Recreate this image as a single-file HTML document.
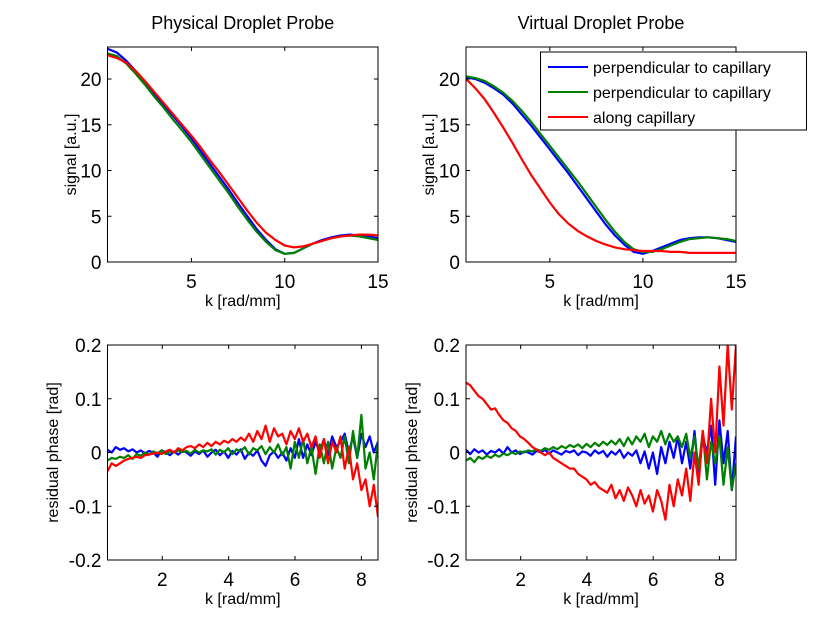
<!DOCTYPE html>
<html><head><meta charset="utf-8"><style>
body{margin:0;background:#fff;width:813px;height:629px;overflow:hidden}
svg{font-family:"Liberation Sans",Arial,sans-serif}
</style></head><body>
<svg id="fig" width="813" height="629" viewBox="0 0 813 629"></svg>
<script>
// ---------- data ----------
const kSignal=[0.5,1,1.5,2,2.5,3,3.5,4,4.5,5,5.5,6,6.5,7,7.5,8,8.5,9,9.5,10,10.5,11,11.5,12,12.5,13,13.5,14,14.5,15];
const physBlue=[23.3,22.9,22.0,20.9,19.7,18.4,17.2,16.0,14.8,13.5,12.1,10.7,9.3,7.9,6.4,5.0,3.6,2.4,1.4,0.9,1.0,1.5,2.0,2.4,2.7,2.9,3.0,2.9,2.8,2.6];
const physGreen=[22.8,22.5,21.7,20.6,19.4,18.1,16.9,15.6,14.4,13.1,11.7,10.3,8.9,7.5,6.0,4.6,3.3,2.2,1.3,0.9,1.0,1.5,2.0,2.3,2.6,2.8,2.9,2.8,2.6,2.4];
const physRed=[22.6,22.3,21.8,20.9,19.8,18.6,17.4,16.2,15.0,13.8,12.5,11.1,9.8,8.4,7.0,5.6,4.3,3.2,2.4,1.8,1.6,1.7,2.0,2.3,2.6,2.8,2.9,3.0,3.0,2.9];
const virtBlue=[20.2,20.0,19.6,19.0,18.3,17.3,16.1,14.9,13.6,12.3,11.0,9.7,8.3,6.9,5.5,4.1,2.9,1.9,1.1,0.9,1.2,1.6,2.0,2.4,2.6,2.7,2.7,2.6,2.4,2.2];
const virtGreen=[20.3,20.1,19.8,19.2,18.5,17.6,16.5,15.3,14.0,12.7,11.4,10.1,8.8,7.4,6.0,4.6,3.3,2.2,1.4,1.1,1.1,1.4,1.8,2.2,2.5,2.6,2.7,2.6,2.5,2.3];
const virtRed=[20.0,19.0,17.8,16.3,14.7,13.0,11.2,9.5,8.0,6.5,5.2,4.2,3.4,2.8,2.3,1.9,1.6,1.4,1.3,1.2,1.2,1.2,1.1,1.1,1.0,1.0,1.0,1.0,1.0,1.0];
const kPhaseStart=0.35, kPhaseEnd=8.5;
const phaseLBlue=[0.005,0.0,0.01,0.005,0.008,0.002,0.006,0.0,0.004,-0.002,0.003,0.0,-0.008,0.004,0.0,-0.005,0.002,-0.004,0.003,0.0,-0.006,0.002,-0.003,0.004,-0.008,0.0,0.005,-0.005,0.002,-0.01,0.003,-0.004,0.006,-0.012,0.0,-0.006,0.004,-0.015,-0.025,-0.005,0.002,-0.01,0.0,-0.015,0.008,-0.01,0.025,-0.01,0.015,-0.005,0.02,0.0,0.025,-0.005,0.03,0.01,0.02,0.035,0.0,0.03,-0.01,0.035,0.01,0.03,0.0,0.02];
const phaseLGreen=[-0.015,-0.01,-0.012,-0.008,-0.01,-0.005,-0.012,-0.003,-0.006,0.0,-0.004,0.002,-0.002,0.004,-0.003,0.002,0.0,0.004,0.001,0.003,-0.002,0.005,0.0,0.004,0.002,0.006,-0.004,0.005,0.0,0.008,-0.003,0.006,0.002,0.01,-0.004,0.008,0.004,0.012,-0.003,0.01,0.0,0.015,-0.005,0.01,-0.03,0.02,-0.01,0.025,-0.02,0.01,-0.04,0.015,-0.02,0.02,-0.03,0.01,-0.01,0.03,-0.02,0.04,-0.01,0.07,-0.03,0.0,-0.05,0.02];
const phaseLRed=[-0.035,-0.02,-0.025,-0.02,-0.015,-0.012,-0.01,-0.008,-0.01,-0.005,-0.004,-0.002,0.0,-0.003,0.002,0.005,0.0,0.008,0.004,0.01,0.012,0.008,0.015,0.01,0.018,0.012,0.02,0.015,0.022,0.018,0.025,0.02,0.028,0.022,0.035,0.02,0.04,0.025,0.05,0.02,0.045,0.03,0.035,0.015,0.04,0.025,0.045,0.02,0.035,0.01,0.03,-0.01,0.025,-0.02,0.02,0.0,0.03,-0.03,0.01,-0.05,-0.02,-0.07,-0.05,-0.1,-0.06,-0.12];
const phaseRBlue=[0.005,-0.003,0.006,0.0,0.004,-0.004,0.003,0.0,0.006,-0.002,0.01,0.0,0.004,-0.003,0.002,0.0,-0.004,0.003,0.0,0.005,-0.002,0.004,0.0,-0.004,0.003,0.0,0.004,-0.005,0.002,0.0,-0.006,0.004,-0.002,0.003,-0.008,0.002,-0.004,0.005,-0.01,0.0,-0.006,0.004,-0.02,0.002,-0.03,0.0,-0.04,0.01,-0.02,0.02,-0.01,0.03,-0.02,0.02,-0.03,0.04,-0.04,0.03,0.0,0.05,-0.06,0.06,-0.02,0.04,-0.07,0.03];
const phaseRGreen=[-0.015,-0.01,-0.018,-0.008,-0.012,-0.006,-0.01,-0.004,-0.008,-0.002,-0.005,0.0,-0.003,0.002,0.0,0.004,0.002,0.006,0.003,0.008,0.005,0.01,0.006,0.012,0.008,0.014,0.01,0.015,0.008,0.016,0.01,0.018,0.012,0.02,0.014,0.022,0.015,0.025,0.012,0.028,0.015,0.03,0.02,0.035,0.01,0.03,0.02,0.04,0.015,0.035,0.02,0.03,0.01,0.035,-0.01,0.03,-0.03,0.04,-0.05,0.02,-0.02,0.03,-0.06,0.01,-0.07,-0.02];
const phaseRRed=[0.13,0.125,0.115,0.105,0.1,0.09,0.08,0.082,0.07,0.06,0.055,0.045,0.04,0.03,0.025,0.018,0.01,0.005,0.0,-0.005,0.0,-0.01,-0.015,-0.02,-0.025,-0.03,-0.03,-0.04,-0.045,-0.05,-0.06,-0.055,-0.065,-0.07,-0.075,-0.06,-0.085,-0.07,-0.09,-0.065,-0.08,-0.1,-0.07,-0.095,-0.08,-0.11,-0.07,-0.09,-0.125,-0.06,-0.1,-0.05,-0.08,-0.03,-0.09,0.0,-0.06,0.04,-0.02,0.1,0.0,0.16,0.05,0.2,0.08,0.2];
const signalTicksX=[5,10,15], signalTicksY=[0,5,10,15,20];
const phaseTicksX=[2,4,6,8], phaseTicksY=[-0.2,-0.1,0,0.1,0.2];
const phaseTickLabels=["-0.2","-0.1","0","0.1","0.2"];
const legendLabels=["perpendicular to capillary","perpendicular to capillary","along capillary"];
const colors=["#0000ff","#008000","#ff0000"];

// ---------- drawing ----------
const NS="http://www.w3.org/2000/svg";
const svg=document.getElementById('fig');
function mk(tag,attrs,parent){const e=document.createElementNS(NS,tag);for(const k in attrs)e.setAttribute(k,attrs[k]);(parent||svg).appendChild(e);return e;}
function txt(s,x,y,size,anchor,parent,rot){const t=mk('text',{x:x,y:y,'font-size':size,'text-anchor':anchor||'middle',fill:'#000'},parent);if(rot)t.setAttribute('transform','rotate(-90 '+x+' '+y+')');t.textContent=s;return t;}

function panel(name,box,xr,yr,xt,yt,ytl,series,xvals,title,ylabel){
  const g=mk('g',{});
  
  
  const sx=v=>box.l+(v-xr[0])/(xr[1]-xr[0])*(box.r-box.l);
  const sy=v=>box.b-(v-yr[0])/(yr[1]-yr[0])*(box.b-box.t);
  const clip=mk('clipPath',{id:name+'-clip'},g);
  mk('rect',{x:box.l,y:box.t,width:box.r-box.l,height:box.b-box.t},clip);
  series.forEach((s,si)=>{
    const xs=xvals(s.length);
    const pts=s.map((v,i)=>sx(xs[i]).toFixed(1)+','+sy(v).toFixed(1)).join(' ');
    const pl=mk('polyline',{points:pts,fill:'none',stroke:colors[si],'stroke-width':2.2,'stroke-linejoin':'round','clip-path':'url(#'+name+'-clip)'},g);
    
    
  });
  const fr=mk('rect',{x:box.l,y:box.t,width:box.r-box.l,height:box.b-box.t,fill:'none',stroke:'#000','stroke-width':1},g);
  
  
  xt.forEach(v=>{const x=sx(v);
    mk('line',{x1:x,y1:box.b,x2:x,y2:box.b-4,stroke:'#000'},g);
    mk('line',{x1:x,y1:box.t,x2:x,y2:box.t+4,stroke:'#000'},g);
    const t=txt(String(v),x,box.b+26,19,'middle',g);
    
    
  });
  yt.forEach((v,i)=>{const y=sy(v);
    mk('line',{x1:box.l,y1:y,x2:box.l+4,y2:y,stroke:'#000'},g);
    mk('line',{x1:box.r,y1:y,x2:box.r-4,y2:y,stroke:'#000'},g);
    const t=txt(ytl?ytl[i]:String(v),box.l-6,y+7,19,'end',g);
    
    
  });
  const xl=txt('k [rad/mm]',(box.l+box.r)/2,box.b+44,16,'middle',g);
  
  
  const yl=txt(ylabel,box.ylx,(box.t+box.b)/2,16,'middle',g,true);
  
  
  if(title){const tt=txt(title,(box.l+box.r)/2,29,18,'middle',g);
    
    }
}
const sigX=n=>kSignal.slice(0,n);
const phX=n=>{const a=[];for(let i=0;i<n;i++)a.push(kPhaseStart+(kPhaseEnd-kPhaseStart)*i/(n-1));return a;};

panel('physical-signal-plot',{l:107.5,r:378,t:47,b:262,ylx:76},[0.5,15],[0,23.5],signalTicksX,signalTicksY,null,[physBlue,physGreen,physRed],sigX,'Physical Droplet Probe','signal [a.u.]');
panel('virtual-signal-plot',{l:466,r:736,t:47,b:262,ylx:434},[0.5,15],[0,23.5],signalTicksX,signalTicksY,null,[virtBlue,virtGreen,virtRed],sigX,'Virtual Droplet Probe','signal [a.u.]');
panel('physical-phase-plot',{l:107.5,r:378,t:345,b:560,ylx:58},[0.35,8.5],[-0.2,0.2],phaseTicksX,phaseTicksY,phaseTickLabels,[phaseLBlue,phaseLGreen,phaseLRed],phX,null,'residual phase [rad]');
panel('virtual-phase-plot',{l:466,r:736,t:345,b:560,ylx:417},[0.35,8.5],[-0.2,0.2],phaseTicksX,phaseTicksY,phaseTickLabels,[phaseRBlue,phaseRGreen,phaseRRed],phX,null,'residual phase [rad]');

// legend
const lg=mk('g',{});


mk('rect',{x:540.5,y:52,width:266,height:78,fill:'#fff',stroke:'#000','stroke-width':1},lg);
legendLabels.forEach((s,i)=>{
  const y=67+i*25;
  const ln=mk('line',{x1:548,y1:y,x2:588,y2:y,stroke:colors[i],'stroke-width':2},lg);
  
  
  const t=txt(s,593,y+6,16,'start',lg);
  
  
});
</script>
</body></html>
